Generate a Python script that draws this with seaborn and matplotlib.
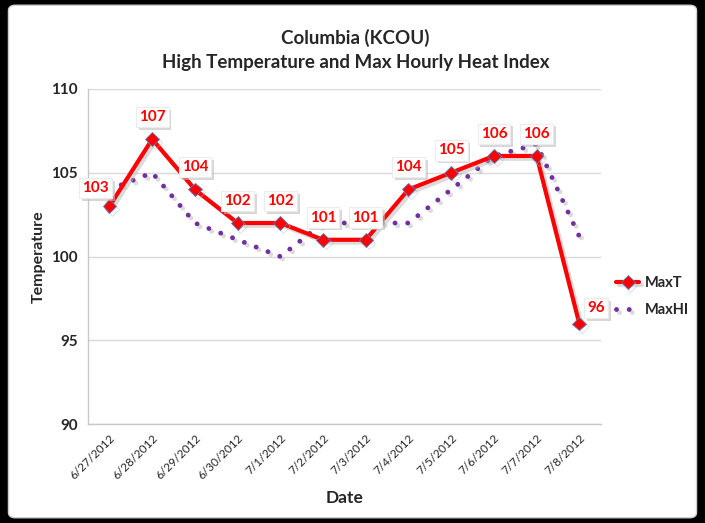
import numpy as np
import pandas as pd
import matplotlib
matplotlib.use("Agg")
import matplotlib.pyplot as plt
import matplotlib.patheffects as pe
from matplotlib.patches import FancyBboxPatch
import seaborn as sns

dates = ["6/27/2012", "6/28/2012", "6/29/2012", "6/30/2012", "7/1/2012", "7/2/2012",
         "7/3/2012", "7/4/2012", "7/5/2012", "7/6/2012", "7/7/2012", "7/8/2012"]
max_t = [103, 107, 104, 102, 102, 101, 101, 104, 105, 106, 106, 96]
max_hi = [104, 105, 102, 101, 100, 102, 102, 102, 104, 106, 106.7, 101.2]
y_ticks = [90, 95, 100, 105, 110]

sns.set_style("white")
plt.rcParams['font.family'] = ['Lato', 'DejaVu Sans']

df = pd.DataFrame({"Date": dates, "MaxT": max_t, "MaxHI": max_hi})
df["pos"] = np.arange(len(dates))

fig = plt.figure(figsize=(7.05, 5.23), dpi=100)
fig.patch.set_facecolor("black")
fig.add_artist(FancyBboxPatch((0.012, 0.01), 0.976, 0.98, boxstyle="round,pad=0,rounding_size=0.01",
                              transform=fig.transFigure, facecolor="white", edgecolor="#d0d0d0",
                              linewidth=1, zorder=-10))
ax = fig.add_axes([0.125, 0.189, 0.727, 0.641])
ax.set_facecolor("white")
ax.set_zorder(2)

shadow = [pe.SimpleLineShadow(offset=(2, -2), shadow_color="#b8b8b8", alpha=0.5), pe.Normal()]

sns.lineplot(data=df, x="pos", y="MaxHI", ax=ax, color="#7030A0", linewidth=3.5,
             linestyle=(0, (0.01, 2.6)), dash_capstyle="round", label="MaxHI", zorder=2,
             path_effects=shadow)
sns.lineplot(data=df, x="pos", y="MaxT", ax=ax, color="#FF0000", linewidth=3,
             marker="D", markersize=7, markerfacecolor="#FF0000", markeredgecolor="#4F81BD",
             markeredgewidth=0.6, label="MaxT", zorder=3, path_effects=shadow)

label_shadow = [pe.withSimplePatchShadow(offset=(2, -2), shadow_rgbFace="#bdbdbd", alpha=0.6)]
for i, v in enumerate(max_t):
    dx, dy = 0, 16
    if i == 0:
        dx, dy = -10, 13
    elif i == len(max_t) - 1:
        dx, dy = 12, 11
    t = ax.annotate(str(v), (i, v), xytext=(dx, dy), textcoords="offset points", ha="center",
                    va="center", color="#FF0000", fontsize=11, fontweight="bold", zorder=5,
                    bbox=dict(boxstyle="square,pad=0.2", facecolor="white", edgecolor="#ececec",
                              linewidth=0.8))
    t.get_bbox_patch().set_path_effects(label_shadow)

ax.set_xlim(-0.5, len(dates) - 0.5)
ax.set_ylim(90, 110)
ax.set_yticks(y_ticks)
ax.set_yticklabels([str(t) for t in y_ticks], fontsize=11, fontweight="bold")
ax.set_xticks(df["pos"])
ax.set_xticklabels(dates, rotation=45, ha="right", rotation_mode="anchor", fontsize=8.5)
ax.set_xticks(np.arange(-0.5, len(dates)), minor=True)
ax.tick_params(axis="x", which="major", length=0, pad=6)
ax.tick_params(axis="x", which="minor", length=4, color="#c0c0c0", direction="out")
ax.tick_params(axis="y", length=4, color="#c0c0c0", direction="out")
ax.grid(axis="y", color="#d9d9d9", linewidth=1)
ax.set_axisbelow(True)
for s in ["top", "right"]:
    ax.spines[s].set_visible(False)
for s in ["left", "bottom"]:
    ax.spines[s].set_color("#c8c8c8")
    ax.spines[s].set_linewidth(1)

ax.set_xlabel("Date", fontsize=12.5, fontweight="bold", labelpad=6)
ax.set_ylabel("Temperature", fontsize=11.5, fontweight="bold", labelpad=4)
ax.set_title("Columbia (KCOU)\nHigh Temperature and Max Hourly Heat Index",
             fontsize=13.5, fontweight="bold", pad=15, linespacing=1.5, x=0.522)

handles, labels = ax.get_legend_handles_labels()
order = [labels.index("MaxT"), labels.index("MaxHI")]
ax.legend([handles[i] for i in order], [labels[i] for i in order], loc="center left",
          bbox_to_anchor=(1.03, 0.38), frameon=False, prop={"weight": "bold", "size": 10.5},
          handlelength=1.6, handletextpad=0.4, labelspacing=0.9, borderpad=0,
          borderaxespad=0, numpoints=1, markerfirst=True)

fig.savefig("out.png", dpi=100, facecolor=fig.get_facecolor())
